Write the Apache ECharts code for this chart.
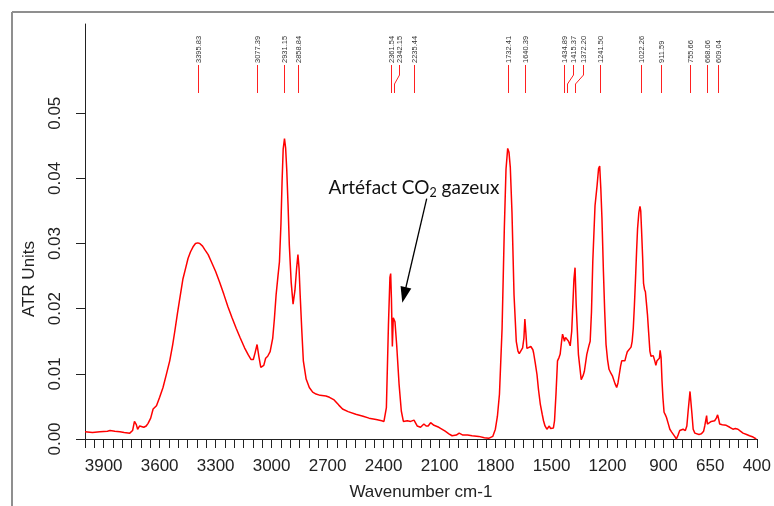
<!DOCTYPE html>
<html><head><meta charset="utf-8">
<script src="https://cdn.jsdelivr.net/npm/echarts@6/dist/echarts.min.js"></script>
<style>html,body{margin:0;padding:0;background:#fff}#c{width:774px;height:506px}</style>
</head><body><div id="c"></div>
<script>
// ---- data ----
const wavenumbers = [4000,3960,3920,3880,3866,3840,3813,3790,3760,3745,3735,3725,3718,3707,3697,3685,3672,3662,3648,3635,3625,3617,3600,3582,3565,3546,3530,3519,3505,3493,3475,3460,3448,3435,3421,3408,3396,3385,3370,3359,3340,3323,3300,3279,3256,3234,3212,3190,3168,3145,3125,3110,3098,3088,3078,3068,3058,3051,3042,3032,3021,3008,2994,2985,2976,2966,2958,2950,2944,2938,2931,2925,2919,2912,2905,2895,2885,2875,2866,2859,2853,2847,2838,2830,2815,2798,2780,2762,2740,2709,2690,2665,2640,2620,2590,2549,2510,2478,2440,2410,2398,2390,2385,2374,2366,2362,2358,2353,2348,2342,2339,2330,2317,2305,2294,2273,2255,2237,2220,2202,2184,2172,2161,2148,2130,2104,2070,2050,2033,2010,1995,1988,1975,1950,1926,1890,1860,1837,1815,1801,1790,1779,1765,1753,1744,1735,1728,1721,1712,1701,1689,1680,1673,1663,1655,1648,1643,1638,1632,1622,1611,1600,1596,1588,1578,1570,1560,1550,1543,1535,1525,1512,1505,1498,1490,1484,1476,1468,1460,1454,1446,1441,1435,1431,1425,1420,1415,1409,1400,1397,1392,1388,1380,1374,1368,1356,1341,1330,1324,1311,1300,1293,1286,1279,1267,1256,1248,1242,1236,1230,1222,1215,1208,1200,1192,1182,1174,1160,1151,1144,1137,1130,1124,1115,1107,1100,1094,1084,1074,1068,1062,1056,1050,1044,1039,1032,1026,1022,1018,1012,1007,1002,997,992,986,980,973,967,961,955,950,945,941,935,929,922,918,913,908,903,897,890,884,875,866,857,848,840,831,822,813,804,795,783,775,768,758,748,741,732,724,710,697,685,679,669,665,655,644,635,626,617,610,604,599,585,564,545,528,515,501,488,474,455,439,420,403];
const atr = [0.0011,0.0010,0.0011,0.0012,0.0013,0.0012,0.0011,0.0010,0.0009,0.0013,0.0027,0.0022,0.0015,0.0020,0.0021,0.0018,0.0020,0.0024,0.0032,0.0046,0.0049,0.0051,0.0064,0.0079,0.0098,0.0120,0.0145,0.0165,0.0192,0.0214,0.0246,0.0263,0.0277,0.0287,0.0295,0.0300,0.0301,0.0300,0.0296,0.0291,0.0283,0.0272,0.0257,0.0241,0.0222,0.0203,0.0186,0.0170,0.0155,0.0140,0.0129,0.0122,0.0122,0.0133,0.0145,0.0126,0.0110,0.0108,0.0113,0.0124,0.0127,0.0134,0.0155,0.0185,0.0221,0.0250,0.0272,0.0330,0.0395,0.0445,0.0461,0.0447,0.0414,0.0360,0.0297,0.0240,0.0207,0.0228,0.0262,0.0283,0.0262,0.0221,0.0165,0.0120,0.0092,0.0079,0.0072,0.0069,0.0067,0.0066,0.0064,0.0060,0.0052,0.0046,0.0042,0.0038,0.0035,0.0032,0.0030,0.0028,0.0027,0.0030,0.0048,0.0175,0.0248,0.0254,0.0216,0.0142,0.0186,0.0189,0.0180,0.0145,0.0084,0.0043,0.0027,0.0028,0.0027,0.0029,0.0020,0.0018,0.0023,0.0020,0.0020,0.0025,0.0021,0.0018,0.0012,0.0008,0.0005,0.0006,0.0009,0.0009,0.0006,0.0006,0.0005,0.0004,0.0002,0.0001,0.0004,0.0015,0.0035,0.0069,0.0170,0.0323,0.0414,0.0446,0.0440,0.0417,0.0348,0.0221,0.0150,0.0135,0.0131,0.0133,0.0140,0.0155,0.0184,0.0165,0.0139,0.0140,0.0142,0.0137,0.0132,0.0118,0.0099,0.0076,0.0053,0.0038,0.0028,0.0020,0.0015,0.0020,0.0016,0.0013,0.0017,0.0028,0.0070,0.0120,0.0125,0.0130,0.0150,0.0161,0.0155,0.0150,0.0156,0.0159,0.0155,0.0150,0.0143,0.0142,0.0165,0.0191,0.0245,0.0263,0.0206,0.0130,0.0091,0.0098,0.0104,0.0130,0.0143,0.0150,0.0195,0.0272,0.0358,0.0389,0.0415,0.0419,0.0385,0.0340,0.0257,0.0195,0.0145,0.0122,0.0107,0.0101,0.0097,0.0085,0.0079,0.0086,0.0099,0.0112,0.0120,0.0119,0.0120,0.0128,0.0134,0.0137,0.0141,0.0150,0.0170,0.0205,0.0246,0.0290,0.0323,0.0348,0.0357,0.0350,0.0323,0.0280,0.0239,0.0230,0.0226,0.0210,0.0191,0.0165,0.0135,0.0127,0.0125,0.0128,0.0127,0.0118,0.0113,0.0120,0.0122,0.0124,0.0136,0.0125,0.0089,0.0063,0.0041,0.0037,0.0033,0.0024,0.0015,0.0011,0.0008,0.0004,0.0000,0.0006,0.0013,0.0015,0.0015,0.0013,0.0020,0.0043,0.0073,0.0040,0.0015,0.0009,0.0007,0.0007,0.0008,0.0012,0.0020,0.0036,0.0023,0.0025,0.0027,0.0027,0.0028,0.0032,0.0037,0.0030,0.0023,0.0022,0.0021,0.0018,0.0015,0.0016,0.0015,0.0012,0.0009,0.0007,0.0005,0.0003,0.0000];
const peakPositions = [3395.83,3077.39,2931.15,2858.84,2361.54,2342.15,2235.44,1732.41,1640.39,1434.89,1415.37,1372.20,1241.50,1022.26,911.59,755.66,668.06,609.04];
const peakLabels = ['3395.83','3077.39','2931.15','2858.84','2361.54','2342.15','2235.44','1732.41','1640.39','1434.89','1415.37','1372.20','1241.50','1022.26','911.59','755.66','668.06','609.04'];
const xTickLabels = [3900,3600,3300,3000,2700,2400,2100,1800,1500,1200,900,650,400];
const yTickLabels = [0,0.01,0.02,0.03,0.04,0.05];
const annotationText = ['Artéfact CO', '2', ' gazeux'];
const annotationTextAt = [2237, 0.0388];
const arrowFrom = [2169, 0.0369];
const arrowTo = [2290, 0.0221];

// ---- layout / style ----
const X_MIN = 400, X_MAX = 4000, Y_MIN = 0, Y_MAX = 0.0637;
const labelShift = {'2342.15': 5, '1415.37': 6, '1372.20': 8};
const FONT = '"Liberation Sans", Arial, sans-serif';
const ANNOT_FONT = 'Lato, "Open Sans", sans-serif';
const xTicks = [];
for (let v = X_MIN; v <= X_MAX; v += 50) xTicks.push(v);

const chart = echarts.init(document.getElementById('c'), null, {renderer: 'canvas'});
chart.setOption({
  animation: false,
  backgroundColor: '#ffffff',
  grid: {left: 85, right: 15, top: 24, bottom: 64, containLabel: false},
  xAxis: {
    type: 'value', inverse: true, min: X_MIN, max: X_MAX,
    axisLine: {show: true, onZero: false, lineStyle: {color: '#222', width: 1}},
    axisTick: {show: true, length: 9, customValues: xTicks, lineStyle: {color: '#222', width: 1}},
    axisLabel: {customValues: xTickLabels, showMinLabel: true, showMaxLabel: true, fontSize: 17, color: '#222', margin: 19, fontFamily: FONT,
      formatter: v => String(Math.round(v))},
    splitLine: {show: false},
    name: 'Wavenumber cm-1', nameLocation: 'middle', nameGap: 45,
    nameTextStyle: {fontSize: 17, color: '#222', fontFamily: FONT}
  },
  yAxis: {
    type: 'value', min: Y_MIN, max: Y_MAX,
    axisLine: {show: true, onZero: false, lineStyle: {color: '#222', width: 1}},
    axisTick: {show: true, length: 9, customValues: yTickLabels, lineStyle: {color: '#222', width: 1}},
    axisLabel: {customValues: yTickLabels, showMinLabel: true, showMaxLabel: true, rotate: 90, fontSize: 17, color: '#222', margin: 21, fontFamily: FONT,
      formatter: v => Number(v).toFixed(2)},
    splitLine: {show: false}
  },
  graphic: [
    {type: 'line', shape: {x1: 12, y1: 12, x2: 774, y2: 12}, style: {stroke: '#8f8f8f', lineWidth: 2}},
    {type: 'line', shape: {x1: 12, y1: 12, x2: 12, y2: 506}, style: {stroke: '#8f8f8f', lineWidth: 2}},
    {type: 'text', x: 29, y: 279, rotation: Math.PI / 2,
      style: {text: 'ATR Units', fontSize: 17, fill: '#222', align: 'center', verticalAlign: 'middle', fontFamily: FONT}}
  ],
  series: [
    {
      type: 'line', showSymbol: false, symbol: 'none',
      data: wavenumbers.map((w, i) => [w, atr[i]]),
      lineStyle: {color: '#ff0000', width: 1.5},
      itemStyle: {color: '#ff0000'},
      z: 3,
      markLine: {
        silent: true, animation: false,
        symbol: ['none', 'triangle'], symbolSize: [11, 16],
        lineStyle: {color: '#000', width: 1.3, type: 'solid'},
        itemStyle: {color: '#000'},
        label: {show: false},
        data: [[{coord: arrowFrom}, {coord: arrowTo}]]
      },
      markPoint: {
        silent: true, animation: false,
        data: [{
          coord: annotationTextAt, symbol: 'circle', symbolSize: 0,
          label: {
            show: true, position: 'inside',
            formatter: '{a|' + annotationText[0] + '}{s|' + annotationText[1] + '}{a|' + annotationText[2] + '}',
            rich: {
              a: {fontSize: 19, color: '#111', fontFamily: ANNOT_FONT, lineHeight: 23, verticalAlign: 'bottom'},
              s: {fontSize: 12.5, color: '#111', fontFamily: ANNOT_FONT, lineHeight: 14, verticalAlign: 'bottom', padding: [0, 0, -2, 0]}
            }
          }
        }]
      }
    },
    {
      type: 'custom', coordinateSystem: 'cartesian2d', silent: true, z: 4,
      data: peakPositions.map(p => [p, Y_MAX]),
      encode: {x: 0, y: 1},
      renderItem: function (params, api) {
        const wn = api.value(0);
        const p = api.coord([wn, Y_MAX]);
        const x = Math.round(p[0]) + 0.5;
        const top = p[1];
        const lbl = peakLabels[params.dataIndex];
        const s = labelShift[lbl] || 0;
        const y1 = top + 41, y2 = top + 51, y3 = top + 60, y4 = top + 69;
        const pts = s ? [[x + s, y1], [x + s, y2], [x, y3], [x, y4]] : [[x, y1], [x, y4]];
        return {
          type: 'group',
          children: [
            {type: 'polyline', shape: {points: pts}, style: {stroke: '#ff2020', lineWidth: 1, fill: null}},
            {type: 'text', x: x + s, y: top + 39, rotation: Math.PI / 2,
              style: {text: lbl, fontSize: 7.5, fill: '#333', align: 'left', verticalAlign: 'middle', fontFamily: FONT}}
          ]
        };
      }
    }
  ]
});
</script>
</body></html>
